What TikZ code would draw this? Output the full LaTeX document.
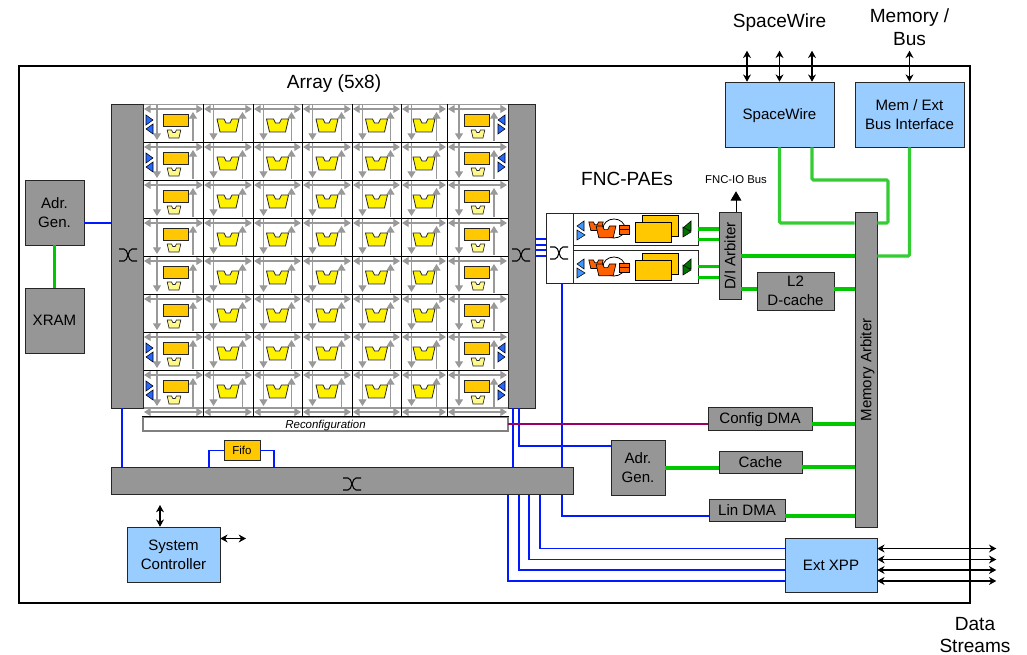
\documentclass[tikz,border=0pt]{standalone}
\usepackage{fontspec}
\setmainfont{Liberation Sans}
\usetikzlibrary{arrows.meta}
\definecolor{ramfill}{HTML}{FFC800}
\definecolor{portblue}{HTML}{99CCFF}
\definecolor{linkgreen}{HTML}{33CC33}
\def\pxu{0.75pt}

\begin{document}
\begin{tikzpicture}[
	  x=0.75pt, y=-0.75pt,
	  greybox/.style={draw=black!85, fill=black!41, inner sep=0pt, align=center, font=\fontsize{11.3}{14.5}\selectfont},
	  bluebox/.style={greybox, fill=portblue},
	  oneline/.style={text height=8.1pt, text depth=0pt},
	  size/.style 2 args={minimum width=#1*\pxu, minimum height=#2*\pxu},
	  title/.style={align=center, inner sep=0pt, font=\fontsize{14.3}{17}\selectfont},
	  gbus/.style={draw=green!78!black, line width=2.3pt},
	  lbus/.style={draw=linkgreen, line width=2.3pt, rounded corners=1pt},
	  cfg/.style={draw=blue!90!cyan, line width=0.9pt},
	  port/.style={<->, >={Stealth[length=5.5pt,width=6pt]}, line width=0.8pt},
	  net/.style={draw=black!40, line width=0.9pt},
	  netarrow/.style={net, >={Triangle[length=5pt,width=6pt]}},
	  alunode/.style={draw=black!85, fill=yellow, line width=0.6pt},
	  tri/.style={draw=black, fill=blue!70!cyan!85, line width=0.4pt},
	  xswitch/.pic={
		\draw[line width=0.8pt] (-9,-6) -- (-4,-6) .. controls (0,-6) and (0,6) .. (4,6) -- (9,6);
		\draw[line width=0.8pt] (-9,6) -- (-4,6) .. controls (0,6) and (0,-6) .. (4,-6) -- (9,-6);
	  },
	  alushape/.pic={
		\path[pic actions] (-11,0) -- (-4,0) -- (-2,4) -- (2,4) -- (4,0) -- (11,0) -- (8,13) -- (-8,13) -- cycle;
	  },
	  fncpae/.pic={
		\draw[tri, fill=blue!55!cyan!75] (4,13) -- (11,8) -- (11,18) -- cycle;
		\draw[tri, fill=blue!55!cyan!75] (4,17) -- (12,22) -- (4,27) -- cycle;
		\draw[line width=0.6pt] (41,15.5) ellipse (11 and 9.5);
		\pic[draw=black, fill=orange!75!red, line width=0.5pt, scale=0.65] at (23,9) {alushape};
		\pic[draw=black, fill=orange!75!red, line width=0.5pt, scale=0.9] at (33,13) {alushape};
		\draw[draw=black, fill=orange!75!red, line width=0.5pt] (46,12) rectangle (56,21) (46,16.5) -- (56,16.5);
		\draw[draw=black, fill=ramfill, line width=0.6pt] (69,2) rectangle (105,23);
		\draw[draw=black, fill=ramfill, line width=0.6pt] (62,9) rectangle (98,29);
		\draw[draw=black, fill=green!45!black, line width=0.4pt] (118,8) -- (118,18) -- (110,15) -- cycle;
		\draw[draw=black, fill=green!45!black, line width=0.4pt] (110,14) -- (118,19) -- (110,24) -- cycle;
	  },
	]

	  \useasboundingbox (0,0) rectangle (1027,655);

	  \node[draw, line width=2.2pt, size={951}{537}, inner sep=0pt] (chip) at (494.5,334.5) {};

	  % array cells
	  \foreach \r in {0,...,7} {
		\pgfmathsetmacro{\ry}{104+38*\r}
		\begin{scope}[shift={(0,\ry)}]
		  % left RAM column
		  \draw[netarrow,<->] (144,5) -- (203,5);
		  \draw[netarrow,->] (157,0) -- (157,36);
		  \draw[netarrow,->] (193,37) -- (193,8);
		  \draw[draw=black!85, fill=ramfill, line width=0.6pt] (163,10) rectangle (188,22);
		  \pic[draw=black!85, fill=yellow!45, line width=0.5pt, scale=0.62] at (174,26) {alushape};
		  % right RAM column
		  \draw[netarrow,<->] (448,5) -- (507,5);
		  \draw[netarrow,->] (459,0) -- (459,36);
		  \draw[netarrow,->] (494,37) -- (494,8);
		  \draw[draw=black!85, fill=ramfill, line width=0.6pt] (464,10) rectangle (489,22);
		  \pic[draw=black!85, fill=yellow!45, line width=0.5pt, scale=0.62] at (478,26) {alushape};
		  % ALU columns
		  \foreach \cl/\cr in {203/253,253/302,302/352,352/401,401/447} {
			\pgfmathsetmacro{\cm}{(\cl+\cr)/2}
			\draw[netarrow,<->] (\cl+1,5) -- (\cr-1,5);
			\draw[netarrow,->] (\cl+10.5,0) -- (\cl+10.5,36);
			\draw[netarrow,->] (\cr-10.5,37) -- (\cr-10.5,8);
			\pic[alunode] at (\cm,15) {alushape};
		  }
		\end{scope}
	  }

	  % io triangles
	  \foreach \ry in {104,142,332,370} {
		\draw[tri] (146,\ry+11) -- (153,\ry+16) -- (146,\ry+21) -- cycle;
		\draw[tri] (153,\ry+20) -- (146,\ry+25) -- (153,\ry+30) -- cycle;
		\draw[tri] (505,\ry+11) -- (498,\ry+16) -- (505,\ry+21) -- cycle;
		\draw[tri] (498,\ry+20) -- (505,\ry+25) -- (498,\ry+30) -- cycle;
	  }

	  % last channel row
	  \draw[netarrow,<->] (144,412) -- (203,412);
	  \draw[netarrow,<->] (448,412) -- (507,412);
	  \foreach \cl/\cr in {203/253,253/302,302/352,352/401,401/447} {
		\draw[netarrow,<->] (\cl+1,412) -- (\cr-1,412);
	  }

	  % grid
	  \draw[net] (143,104.5) -- (508,104.5) (143,408) -- (508,408);
	  \foreach \ry in {142,180,218,256,294,332,370,417} {
		\draw[line width=0.7pt] (143,\ry) -- (508,\ry);
	  }
	  \foreach \cx in {203,253,302,352,401,447} {
		\draw[line width=0.7pt] (\cx,104) -- (\cx,417);
	  }

	  \node[draw=black!50, line width=0.8pt, size={365}{14}, inner sep=0pt, text height=6pt, text depth=0pt, font=\fontsize{8.6}{10}\itshape] (reconf) at (325.5,424) {Reconfiguration};
	  \draw[line width=0.7pt] (reconf.north west) -- (reconf.north east);

	  \node[title, oneline, text height=10.2pt] (arraylbl) at (334,82) {Array (5x8)};
	  \node[greybox, size={32}{304}] (leftbar) at (127,256) {};
	  \node[greybox, size={27}{304}] (rightbar) at (521.5,256) {};
	  \node[greybox, size={462}{27}] (xbar) at (342,481) {};
	  \node[greybox, size={59}{65}] (adrl) at (54.5,212.5) {Adr.\\Gen.};
	  \node[greybox, oneline, size={59}{65}] (xram) at (54.5,320.5) {XRAM};
	  \node[greybox, size={36}{20}, fill=ramfill, text height=6.2pt, text depth=0pt, font=\fontsize{8.6}{10}\selectfont] (fifo) at (242,450.5) {Fifo};
	  \node[bluebox, size={93}{55}] (sysctl) at (173.5,554.5) {System\\Controller};
	  \node[bluebox, oneline, size={109}{65}] (sw) at (779.5,114.5) {SpaceWire};
	  \node[bluebox, size={109}{65}] (memif) at (909.5,114.5) {Mem / Ext\\Bus Interface};
	  \node[greybox, size={22}{315}] (memarb) at (866,369.5) {};
	  \node[font=\fontsize{11.3}{14}\selectfont, oneline, rotate=90, inner sep=0pt] (memlbl) at (866,370) {Memory Arbiter};
	  \node[greybox, size={22}{87}] (diarb) at (730,256) {};
	  \node[font=\fontsize{11.3}{14}\selectfont, oneline, rotate=90, inner sep=0pt] (dilbl) at (730,256) {D/I Arbiter};
	  \node[greybox, size={77}{38}] (ltwo) at (795.5,291) {L2\\D-cache};
	  \node[greybox, oneline, size={104}{23}] (cfgdma) at (760,418.5) {Config DMA};
	  \node[greybox, oneline, size={83}{22}] (cache) at (760.5,462) {Cache};
	  \node[greybox, oneline, size={76}{22}] (lindma) at (747,510) {Lin DMA};
	  \node[greybox, size={54}{55}] (adrr) at (638,467.5) {Adr.\\Gen.};
	  \node[bluebox, oneline, size={92}{54}] (xpp) at (831,565) {Ext XPP};

	  % FNC-PAEs
	  \node[draw=black!85, fill=white, size={27}{70}, inner sep=0pt] (fncsw) at (559.5,248) {};
	  \node[draw=black!85, fill=white, size={125}{32}, inner sep=0pt] (fnca) at (635.5,229) {};
	  \node[draw=black!85, fill=white, size={125}{33}, inner sep=0pt] (fncb) at (635.5,266.5) {};
	  \pic at (573,213) {fncpae};
	  \pic at (573,251) {fncpae};
	  \node[title, text height=10.2pt, text depth=0pt] (fnclbl) at (627,179) {FNC-PAEs};
	  \node[inner sep=0pt, text height=6.1pt, text depth=0pt, font=\fontsize{8.5}{10}\selectfont] (fncio) at (736,179) {FNC-IO Bus};
	  \draw[-{Triangle[length=7pt,width=8pt]}, line width=0.7pt] ([xshift=6*\pxu]diarb.north) -- ([xshift=6*\pxu,yshift=21*\pxu]diarb.north);

	  \pic at (128,255) {xswitch};
	  \pic at (521,255) {xswitch};
	  \pic at (559,253) {xswitch};
	  \pic at (352,484) {xswitch};

	  % outer labels
	  \node[title, text height=10.2pt, text depth=0pt] (swlbl) at (779.5,21) {SpaceWire};
	  \node[title] (memlabel) at (909.5,27) {Memory /\\Bus};
	  \node[title] (dslbl) at (975,635) {Data\\Streams};

	  % ports
	  \foreach \s in {-32.5,0,32.5} {
		\draw[port] ([xshift=\s*\pxu]sw.north) -- ([xshift=\s*\pxu,yshift=31*\pxu]sw.north);
	  }
	  \draw[port] (memif.north) -- ([yshift=31*\pxu]memif.north);
	  \draw[port] (sysctl.north -| 160,0) -- (160,505);
	  \draw[port] ([yshift=16*\pxu]sysctl.east) -- (246,538.5);
	  \foreach \s in {16.5,5.5,-5,-16} {
		\draw[port] ([yshift=\s*\pxu]xpp.east) -- ([yshift=\s*\pxu,xshift=119*\pxu]xpp.east);
	  }

	  % green buses
	  \draw[gbus] (adrl.south) -- (xram.north);
	  \foreach \s in {0,-10.5} {
		\draw[gbus] ([yshift=\s*\pxu]fnca.east) -- ([yshift=\s*\pxu]fnca.east -| diarb.west);
	  }
	  \foreach \s in {0,-11} {
		\draw[gbus] ([yshift=\s*\pxu]fncb.east) -- ([yshift=\s*\pxu]fncb.east -| diarb.west);
	  }
	  \draw[gbus] (diarb.east) -- (diarb.east -| memarb.west);
	  \draw[gbus] (ltwo.east |- 0,289) -- (memarb.west |- 0,289);
	  \draw[gbus] (diarb.east |- 0,289) -- (ltwo.west |- 0,289);
	  \draw[gbus] ([yshift=-5.5*\pxu]cfgdma.east) -- ([yshift=-5.5*\pxu]cfgdma.east -| memarb.west);
	  \draw[gbus] (cache.east |- 0,467) -- (memarb.west |- 0,467);
	  \draw[gbus] (adrr.east |- 0,468) -- (cache.west |- 0,468);
	  \draw[gbus] ([yshift=-6*\pxu]lindma.east) -- ([yshift=-6*\pxu]lindma.east -| memarb.west);
	  \draw[lbus] (sw.south) |- (memarb.west |- 0,223);
	  \draw[lbus] ([xshift=32.5*\pxu]sw.south) |- (888,180) |- (memarb.east |- 0,223);
	  \draw[lbus] (memif.south) |- (memarb.east |- diarb.east);

	  % blue links
	  \draw[cfg] (adrl.east |- 0,223) -- (leftbar.west |- 0,223);
	  \foreach \ly in {239,245,250,256} {
		\draw[cfg] (rightbar.east |- 0,\ly) -- (fncsw.west |- 0,\ly);
	  }
	  \draw[cfg] (leftbar.south -| 122,0) -- (xbar.north -| 122,0);
	  \draw[cfg] (rightbar.south -| 513,0) -- (xbar.north -| 513,0);
	  \draw[cfg] (rightbar.south -| 519,0) |- (adrr.west |- 0,446);
	  \draw[cfg] (fncsw.south -| 562,0) -- (xbar.north -| 562,0);
	  \draw[cfg] (xbar.south -| 562,0) |- ([yshift=-6*\pxu]lindma.west);
	  \draw[cfg] (fifo.west) -| (xbar.north -| 209,0);
	  \draw[cfg] (fifo.east) -| (xbar.north -| 274,0);
	  \draw[cfg] (xbar.south -| 508,0) |- ([yshift=-16*\pxu]xpp.west);
	  \draw[cfg] (xbar.south -| 519,0) |- ([yshift=-5*\pxu]xpp.west);
	  \draw[cfg] (xbar.south -| 529,0) |- ([yshift=5.5*\pxu]xpp.west);
	  \draw[cfg] (xbar.south -| 540,0) |- ([yshift=16.5*\pxu]xpp.west);
	  \draw[draw=violet!80!red, line width=0.8pt] (rightbar.south west |- 0,424) -- (cfgdma.west |- 0,424);

	\end{tikzpicture}
\end{document}
